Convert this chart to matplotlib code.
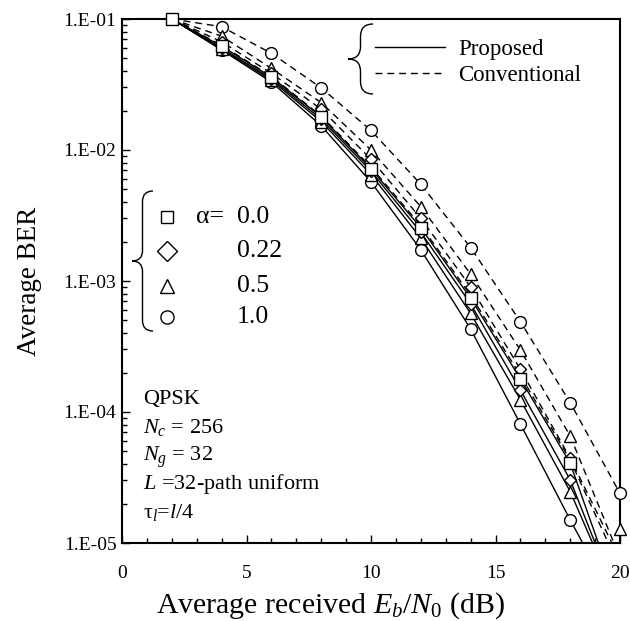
import matplotlib
matplotlib.use('Agg')
import matplotlib.pyplot as plt
import numpy as np
from matplotlib.path import Path
from matplotlib.patches import PathPatch
from matplotlib.ticker import FixedLocator, FuncFormatter, NullFormatter

plt.rcParams['font.family'] = ['Liberation Serif', 'DejaVu Serif']
plt.rcParams['mathtext.fontset'] = 'custom'
plt.rcParams['mathtext.rm'] = 'Liberation Serif'
plt.rcParams['mathtext.it'] = 'Liberation Serif:italic'

# ---------------- data ----------------
snr_db = [2, 4, 6, 8, 10, 12, 14, 16, 18, 20]
nan = np.nan

# simulated points (markers)
ber_a00 = [1.0e-1, 6.2e-2, 3.6e-2, 1.79e-2, 7.2e-3, 2.55e-3, 7.4e-4, 1.79e-4, 4.06e-5, nan]
ber_a022_conv = [nan, 6.7e-2, 3.85e-2, 2.05e-2, 8.5e-3, 3.01e-3, 9.0e-4, 2.12e-4, 4.43e-5, nan]
ber_a022_prop = [nan, 6.0e-2, 3.5e-2, 1.72e-2, 6.9e-3, 2.35e-3, 6.7e-4, 1.47e-4, 3.03e-5, nan]
ber_a05_conv = [nan, 7.4e-2, 4.2e-2, 2.3e-2, 1.0e-2, 3.69e-3, 1.13e-3, 2.97e-4, 6.56e-5, 1.27e-5]
ber_a05_prop = [nan, 5.9e-2, 3.4e-2, 1.65e-2, 6.5e-3, 2.12e-3, 5.66e-4, 1.24e-4, 2.47e-5, nan]
ber_a10_conv = [nan, 8.73e-2, 5.47e-2, 2.98e-2, 1.41e-2, 5.47e-3, 1.80e-3, 4.89e-4, 1.18e-4, 2.39e-5]
ber_a10_prop = [nan, 5.8e-2, 3.3e-2, 1.53e-2, 5.7e-3, 1.73e-3, 4.3e-4, 8.1e-5, 1.5e-5, nan]

# curves (lines)
line_a00_prop = [1.0e-1, 6.2e-2, 3.6e-2, 1.79e-2, 7.2e-3, 2.55e-3, 7.4e-4, 1.79e-4, 4.06e-5, 3.4e-6]
line_a00_conv = [1.0e-1, 6.3e-2, 3.65e-2, 1.82e-2, 7.4e-3, 2.65e-3, 7.8e-4, 1.9e-4, 4.3e-5, 6.4e-6]
line_a022_prop = [1.0e-1, 6.0e-2, 3.5e-2, 1.72e-2, 6.9e-3, 2.35e-3, 6.7e-4, 1.47e-4, 3.03e-5, 3.3e-6]
line_a022_conv = [1.0e-1, 6.7e-2, 3.85e-2, 2.05e-2, 8.5e-3, 3.01e-3, 9.0e-4, 2.12e-4, 4.43e-5, 7.5e-6]
line_a05_prop = [1.0e-1, 5.9e-2, 3.4e-2, 1.65e-2, 6.5e-3, 2.12e-3, 5.66e-4, 1.24e-4, 2.47e-5, 3.3e-6]
line_a05_conv = [1.0e-1, 7.4e-2, 4.2e-2, 2.3e-2, 1.0e-2, 3.69e-3, 1.13e-3, 2.97e-4, 6.56e-5, 7.7e-6]
line_a10_prop = [1.0e-1, 5.8e-2, 3.3e-2, 1.53e-2, 5.7e-3, 1.73e-3, 4.3e-4, 8.1e-5, 1.5e-5, 3.0e-6]
line_a10_conv = [1.0e-1, 8.73e-2, 5.47e-2, 2.98e-2, 1.41e-2, 5.47e-3, 1.80e-3, 4.89e-4, 1.18e-4, 2.39e-5]

alpha_labels = ['0.0', '0.22', '0.5', '1.0']
y_tick_values = [1e-5, 1e-4, 1e-3, 1e-2, 1e-1]
x_tick_values = [0, 5, 10, 15, 20]
info_lines = ['QPSK', r'$N_c$ = 256', r'$N_g$ = 32', r'$L$ =32-path uniform', r'τ$_l$=$l$/4']

# ---------------- figure ----------------
W, H = 630, 621
fig = plt.figure(figsize=(W / 100, H / 100), dpi=100)
ax = fig.add_axes([122 / W, 1 - 543 / H, (620 - 122) / W, (543 - 19) / H])

LW = 1.0
DASH = (5, 3.5)
solid_lines = [line_a00_prop, line_a022_prop, line_a05_prop, line_a10_prop]
dashed_lines = [line_a00_conv, line_a022_conv, line_a05_conv, line_a10_conv]
for ys in solid_lines:
    ax.plot(snr_db, ys, color='black', lw=LW, solid_joinstyle='round', zorder=2)
for ys in dashed_lines:
    ax.plot(snr_db, ys, color='black', lw=LW, dashes=DASH, zorder=2)

mk = dict(linestyle='none', mfc='white', mec='black', mew=1.0, zorder=4, clip_on=False)
sizes = {'s': 8, 'D': 6, '^': 8.5, 'o': 8.5}
for ys in [ber_a10_conv, ber_a10_prop]:
    ax.plot(snr_db, ys, marker='o', ms=sizes['o'], **mk)
for ys in [ber_a05_conv, ber_a05_prop]:
    ax.plot(snr_db, ys, marker='^', ms=sizes['^'], **mk)
for ys in [ber_a022_conv, ber_a022_prop]:
    ax.plot(snr_db, ys, marker='D', ms=sizes['D'], **mk)
ax.plot(snr_db, ber_a00, marker='s', ms=sizes['s'], **mk)

ax.set_yscale('log')
ax.set_ylim(1e-5, 1e-1)
ax.set_xlim(0, 20)

ax.xaxis.set_major_locator(FixedLocator(x_tick_values))
ax.xaxis.set_minor_locator(FixedLocator(np.arange(0, 21, 1)))
ax.yaxis.set_major_locator(FixedLocator(y_tick_values))
minors = [m * 10.0 ** e for e in range(-5, -1) for m in range(2, 10)]
ax.yaxis.set_minor_locator(FixedLocator(minors))
ax.yaxis.set_minor_formatter(NullFormatter())
ax.yaxis.set_major_formatter(FuncFormatter(lambda v, p: '1.E-%02d' % int(round(-np.log10(v)))))
ax.xaxis.set_major_formatter(FuncFormatter(lambda v, p: '%d' % v))

ax.tick_params(which='both', direction='in', top=False, right=False, width=1.0)
ax.tick_params(which='major', length=6, labelsize=14)
ax.tick_params(axis='x', which='major', pad=16)
ax.tick_params(axis='y', which='major', pad=4)
ax.tick_params(which='minor', length=3.5)
for s in ax.spines.values():
    s.set_linewidth(1.5)

ax.set_xlabel(r'Average received $E_b$/$N_0$ (dB)', fontsize=21.5)
ax.xaxis.label.set_va('center')
ax.xaxis.set_label_coords((331 - 122) / 498, (543 - 606) / 524)
ax.set_ylabel('Average BER', fontsize=19.5)
ax.yaxis.label.set_va('center')
ax.yaxis.set_label_coords((30 - 122) / 498, 0.5)


def fx(px):
    return px / W


def fy(py):
    return 1 - py / H


def brace(x0, ytop, ybot, w, ymid=None, lw=1.0):
    if ymid is None:
        ymid = (ytop + ybot) / 2
    xs = x0 + w * 0.5
    xe = x0 + w
    r = w * 0.5
    pts = [
        (xe, ytop), (xs, ytop), (xs, ytop + r),
        (xs, ymid - r), (xs, ymid), (x0, ymid),
        (xs, ymid), (xs, ymid + r),
        (xs, ybot - r), (xs, ybot), (xe, ybot)]
    codes = [Path.MOVETO, Path.CURVE3, Path.CURVE3,
             Path.LINETO, Path.CURVE3, Path.CURVE3,
             Path.CURVE3, Path.CURVE3,
             Path.LINETO, Path.CURVE3, Path.CURVE3]
    verts = [(fx(a), fy(b)) for a, b in pts]
    fig.patches.append(PathPatch(Path(verts, codes), transform=fig.transFigure,
                                 fill=False, lw=lw, ec='black'))


# top-right legend (line styles)
brace(348, 24, 94, 25)
fig.add_artist(plt.Line2D([fx(375), fx(445)], [fy(47), fy(47)], color='black', lw=LW,
                          transform=fig.transFigure))
fig.add_artist(plt.Line2D([fx(375), fx(445)], [fy(73), fy(73)], color='black', lw=LW,
                          dashes=DASH, transform=fig.transFigure))
fig.text(fx(458), fy(55), 'Proposed', fontsize=16.5, va='baseline', ha='left')
fig.text(fx(458), fy(81), 'Conventional', fontsize=16.5, va='baseline', ha='left')

# left legend (markers)
brace(132, 191, 331, 21)
marker_list = ['s', 'D', '^', 'o']
legend_ms = {'s': 9, 'D': 10, '^': 9.5, 'o': 9.5}
marker_y = [217, 251, 286, 317]
text_base = [223, 257, 292, 323]
for m, my, tb, lab in zip(marker_list, marker_y, text_base, alpha_labels):
    fig.add_artist(plt.Line2D([fx(167)], [fy(my)], marker=m, ms=legend_ms[m], mfc='white',
                              mec='black', mew=1.0, linestyle='none', transform=fig.transFigure))
    fig.text(fx(237), fy(tb), lab, fontsize=18.5, va='baseline', ha='left')
fig.text(fx(196), fy(223), 'α=', fontsize=18.5, va='baseline', ha='left')

# parameter annotation
info_base = [404, 433, 461, 489, 518]
for t, b in zip(info_lines, info_base):
    fig.text(fx(143), fy(b), t, fontsize=16, va='baseline', ha='left')

fig.savefig('out.png', dpi=100)
